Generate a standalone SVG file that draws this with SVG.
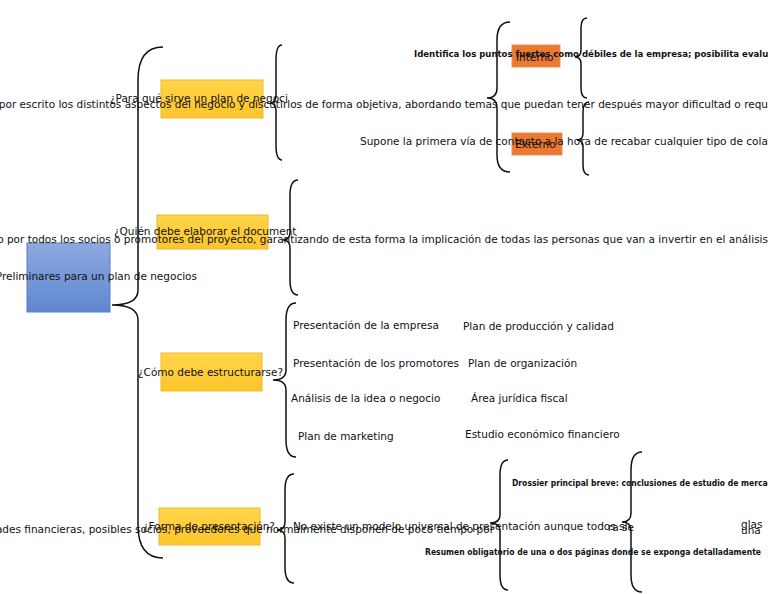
<svg xmlns="http://www.w3.org/2000/svg" width="768" height="594" viewBox="0 0 768 594">
<defs><linearGradient id="bg" x1="0" y1="0" x2="0" y2="1"><stop offset="0" stop-color="#8eaadf"/><stop offset="1" stop-color="#5f86cf"/></linearGradient>
<linearGradient id="yg" x1="0" y1="0" x2="0" y2="1"><stop offset="0" stop-color="#ffd54a"/><stop offset="1" stop-color="#fcc52a"/></linearGradient></defs>
<style>
text{font-family:"DejaVu Sans","Liberation Sans",sans-serif;font-size:10.5px;fill:#111}
.sm{font-family:"DejaVu Sans Condensed","DejaVu Sans",sans-serif;font-size:8.5px;font-weight:bold}
.y{fill:url(#yg);stroke:#f0b830;stroke-width:1}
.o{fill:#ea7a30;stroke:#f09050;stroke-width:1}
.br{fill:none;stroke:#111;stroke-width:1.5}
</style>
<g id="connectors">
<path class="br" d="M163 47 Q138 47 138 80 L138 290 Q138 305 112 305 Q138 305 138 320 L138 525 Q138 558 163 558"/>
<path class="br" d="M282 45 Q276 45 276 60 L276 95 Q276 103 270 103 Q276 103 276 111 L276 145 Q276 160 282 160"/>
<path class="br" d="M510 22 Q497 22 497 40 L497 88 Q497 98 487 98 Q497 98 497 108 L497 155 Q497 172 510 172"/>
<path class="br" d="M587 18 Q581 18 581 28 L581 50 Q581 57 575 57 Q581 57 581 64 L581 88 Q581 98 587 98"/>
<path class="br" d="M589 102 Q583 102 583 112 L583 133 Q583 140 577 140 Q583 140 583 147 L583 165 Q583 175 589 175"/>
<path class="br" d="M298 180 Q290 180 290 195 L290 232 Q290 240 283 240 Q290 240 290 248 L290 280 Q290 295 298 295"/>
<path class="br" d="M296 303 Q286 303 286 320 L286 370 Q286 380 273 380 Q286 380 286 390 L286 440 Q286 457 296 457"/>
<path class="br" d="M294 474 Q285 474 285 490 L285 522 Q285 530 277 530 Q285 530 285 538 L285 567 Q285 583 294 583"/>
<path class="br" d="M508 460 Q500 460 500 475 L500 515 Q500 523 490 523 Q500 523 500 531 L500 575 Q500 590 508 590"/>
<path class="br" d="M642 452 Q631 452 631 470 L631 513 Q631 522 622 522 Q631 522 631 531 L631 575 Q631 592 642 592"/>
</g>
<g id="root"><rect x="27" y="243" width="83" height="69" fill="url(#bg)" stroke="#5a7fc0"/><text x="197" y="280" text-anchor="end">Preliminares para un plan  de negocios</text></g>
<g id="n1"><rect class="y" x="161" y="80" width="102" height="38"/><text x="110" y="102">¿Para qué sirve un plan  de negoci</text></g>
<g id="n1t"><text x="768" y="108" text-anchor="end">Permite plasmar por escrito los distintos aspectos del negocio y discutirlos de forma objetiva, abordando temas que puedan tener después mayor dificultad o requ</text></g>
<g id="interno"><rect class="o" x="512" y="45" width="48" height="22"/><text x="516" y="61">Interno</text></g>
<g id="externo"><rect class="o" x="512" y="133" width="50" height="22"/><text x="515" y="148">Externo</text></g>
<g id="it"><text class="sm" x="414" y="57" style="font-size:9.5px">Identifica los puntos fuertes como débiles de la empresa; posibilita evaluar</text></g>
<g id="et"><text x="360" y="145">Supone la primera vía de contacto a la hora de recabar cualquier tipo de colaboración</text></g>
<g id="n2"><rect class="y" x="157" y="215" width="111" height="34"/><text x="114" y="235">¿Quién debe elaborar el document</text></g>
<g id="n2t"><text x="768" y="243" text-anchor="end">Debe ser elaborado por todos los socios o promotores del proyecto, garantizando de esta forma la implicación de todas las personas que van a invertir en el análisis</text></g>
<g id="n3"><rect class="y" x="161" y="353" width="101" height="38"/><text x="138" y="376">¿Cómo debe estructurarse?</text></g>
<g id="s1"><text x="293" y="329">Presentación de la empresa</text></g>
<g id="s2"><text x="293" y="367">Presentación de los promotores</text></g>
<g id="s3"><text x="291" y="402">Análisis de la idea o negocio</text></g>
<g id="s4"><text x="298" y="440">Plan de marketing</text></g>
<g id="s5"><text x="463" y="330">Plan de producción y calidad</text></g>
<g id="s6"><text x="468" y="367">Plan de organización</text></g>
<g id="s7"><text x="471" y="402">Área jurídica fiscal</text></g>
<g id="s8"><text x="465" y="438">Estudio económico financiero</text></g>
<g id="n4"><rect class="y" x="159" y="508" width="101" height="37"/><text x="143" y="530">¿Forma de presentación?</text></g>
<g id="n4t"><text x="494" y="533" text-anchor="end">Entidades financieras, posibles socios, proveedores que normalmente disponen de poco tiempo por</text></g>
<g id="f1"><text x="293" y="530">No existe un modelo universal de presentación aunque todos si</text></g>
<g id="f2"><text class="sm" x="512" y="486">Drossier principal breve: conclusiones de estudio de mercado</text></g>
<g id="f3"><text class="sm" x="425" y="555">Resumen obligatorio de una o dos páginas donde se exponga detalladamente</text></g>
<g id="f4"><text x="608" y="531">ra se</text><text x="741" y="528">glas</text><text x="741" y="534">una</text></g>
</svg>
